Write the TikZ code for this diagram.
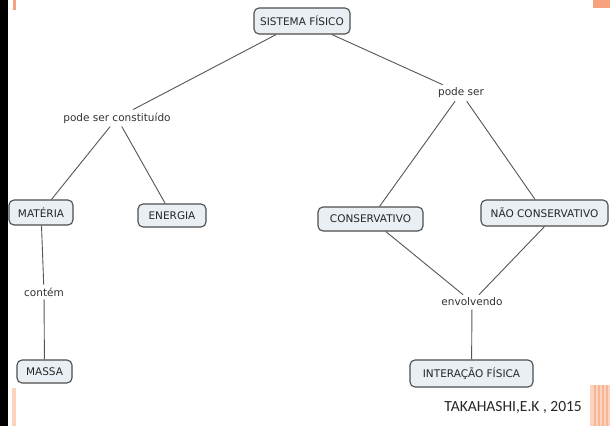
\documentclass[tikz,border=0pt]{standalone}
\usepackage{fontspec}
\setmainfont{DejaVu Sans}
\newfontfamily\credfont{Carlito}
\definecolor{boxfill}{HTML}{E9EFF3}
\definecolor{boxline}{HTML}{4D4D4D}
\definecolor{linkcol}{HTML}{555555}
\definecolor{orangeA}{HTML}{F6A27E}
\definecolor{orangeB}{HTML}{FBD2BE}
\begin{document}
\begin{tikzpicture}[x=1pt,y=-1pt,
  concept/.style={draw=boxline,line width=1.1pt,fill=boxfill,rounded corners=5pt,
    font=\fontsize{10.5}{12}\selectfont,text=black!85,inner sep=0pt,
    minimum height=24pt,anchor=center},
  linklabel/.style={font=\fontsize{10.5}{12}\selectfont,text=black!80,inner sep=3pt,fill=white},
  link/.style={draw=linkcol,line width=0.9pt}]
\useasboundingbox (0,0) rectangle (610,426);
\fill[white] (0,0) rectangle (610,426);
% page decorations
\fill[black] (0,0) rectangle (8,426);
\fill[orangeA] (13,0) rectangle (16,10);
\fill[orangeB] (12,388) rectangle (16,426);
\fill[orangeA] (593,0) rectangle (610,8);
\fill[orangeB] (590,385) rectangle (610,426);
\foreach \xx in {594,598,602,606} \fill[orangeA!80] (\xx,385) rectangle (\xx+1.5,426);
% nodes
\node[concept,minimum width=96pt,minimum height=26pt] (sis) at (302,21) {SISTEMA FÍSICO};
\node[linklabel] (pc) at (117,118) {pode ser constituído};
\node[linklabel] (ps) at (461,93) {pode ser};
\node[concept,minimum width=64pt,minimum height=25pt] (mat) at (41,212.5) {MATÉRIA};
\node[concept,minimum width=68pt,minimum height=23pt] (ene) at (172,215.5) {ENERGIA};
\node[concept,minimum width=105pt] (con) at (370.5,219) {CONSERVATIVO};
\node[concept,minimum width=127pt,minimum height=26pt] (nao) at (544.5,213) {NÃO CONSERVATIVO};
\node[linklabel] (cont) at (44,292) {contém};
\node[concept,minimum width=55pt,minimum height=23pt] (mas) at (44.5,371.5) {MASSA};
\node[linklabel] (env) at (472,302) {envolvendo};
\node[concept,minimum width=123pt,minimum height=27pt] (int) at (471.5,373.5) {INTERAÇÃO FÍSICA};
\node[font=\credfont\fontsize{15.5}{17}\selectfont,text=black!85,anchor=east,inner sep=0pt] (cred) at (582,407) {TAKAHASHI,E.K , 2015};
% connectors
\path[link] (sis) -- (pc);
\path[link] (sis) -- (ps);
\path[link] (pc) -- (mat);
\path[link] (pc) -- (ene);
\path[link] (ps) -- (con);
\path[link] (ps) -- (nao);
\path[link] (mat) -- (cont);
\path[link] (cont) -- (mas);
\path[link] (con) -- (env);
\path[link] (nao.south) -- (env);
\path[link] (env) -- (int);
\end{tikzpicture}
\end{document}
